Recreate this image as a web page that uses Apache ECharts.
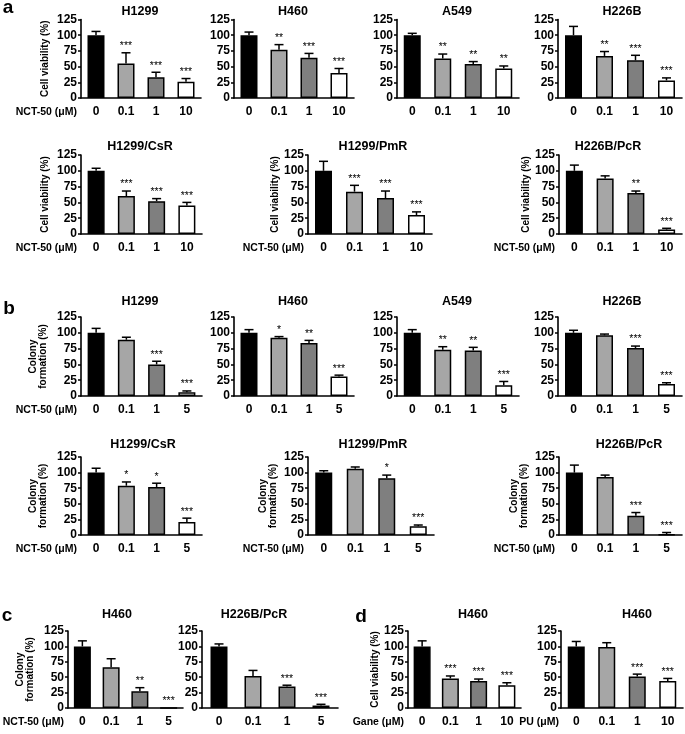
<!DOCTYPE html>
<html><head><meta charset="utf-8">
<script src="https://cdn.jsdelivr.net/npm/echarts@6/dist/echarts.min.js"></script>
<style>html,body{margin:0;padding:0;background:#fff}#c{width:685px;height:734px}</style>
</head><body><div id="c"></div>
<script>
// ---------- data ----------
const dosesV = ['0','0.1','1','10'];
const dosesC = ['0','0.1','1','5'];
const yTicks = [0, 25, 50, 75, 100, 125];

// Panel a (cell viability, %)
const aH1299 = [100,55,33,26];   const aH1299Err = [6,17,8,5];   const aH1299Sig = ['','***','***','***'];
const aH460  = [100,77,64,40];   const aH460Err  = [5,8,7,7];    const aH460Sig  = ['','**','***','***'];
const aA549  = [100,63,54,47];   const aA549Err  = [3,7,4,4];    const aA549Sig  = ['','**','**','**'];
const aH226B = [100,67,60,28];   const aH226BErr = [14,7,8,4];   const aH226BSig = ['','**','***','***'];
const aCsR   = [100,60,52,45];   const aCsRErr   = [4,8,4,5];    const aCsRSig   = ['','***','***','***'];
const aPmR   = [100,67,57,30];   const aPmRErr   = [15,10,11,5]; const aPmRSig   = ['','***','***','***'];
const aPcR   = [100,88,65,7];    const aPcRErr   = [9,4,3,2];    const aPcRSig   = ['','','**','***'];
// Panel b (colony formation, %)
const bH1299 = [100,89,50,6];    const bH1299Err = [7,4,5,2];    const bH1299Sig = ['','','***','***'];
const bH460  = [100,92,84,31];   const bH460Err  = [5,2,4,2];    const bH460Sig  = ['','*','**','***'];
const bA549  = [100,73,72,17];   const bA549Err  = [5,5,5,6];    const bA549Sig  = ['','**','**','***'];
const bH226B = [100,96,76,19];   const bH226BErr = [4,2,3,2];    const bH226BSig = ['','','***','***'];
const bCsR   = [100,79,77,21];   const bCsRErr   = [7,6,6,6];    const bCsRSig   = ['','*','*','***'];
const bPmR   = [100,106,91,14];  const bPmRErr   = [3,3,5,2];    const bPmRSig   = ['','','*','***'];
const bPcR   = [100,93,31,1];    const bPcRErr   = [12,3,5,3];   const bPcRSig   = ['','','***','***'];
// Panel c (colony formation, %)
const cH460  = [100,66,27,0];    const cH460Err  = [9,14,6,0];   const cH460Sig  = ['','','**','***'];
const cPcR   = [100,52,35,4];    const cPcRErr   = [4,9,2,2];    const cPcRSig   = ['','','***','***'];
// Panel d (cell viability, %)
const dGane  = [100,48,44,37];   const dGaneErr  = [9,4,3,4];    const dGaneSig  = ['','***','***','***'];
const dPU    = [100,99,51,44];   const dPUErr    = [8,7,4,4];    const dPUSig    = ['','','***','***'];

// ---------- layout / style ----------
const barColors = ['#000000','#a6a6a6','#7f7f7f','#ffffff'];
const FONT = '"Liberation Sans", Arial, Helvetica, sans-serif';
const CV = 'Cell viability (%)';
const CF = 'Colony\nformation (%)';
const NCT = 'NCT-50 (\u03bcM)';

// box = [axisLeft, axisRight, y(125), y(0)]
const charts = [
 {t:'H1299', cats:dosesV, v:aH1299, e:aH1299Err, s:aH1299Sig, box:[81,201,19.5,98], tx:140, ty:12, yn:CV, yg:31, xn:NCT},
 {t:'H460',  cats:dosesV, v:aH460,  e:aH460Err,  s:aH460Sig,  box:[234,354,19.5,98], tx:293, ty:12},
 {t:'A549',  cats:dosesV, v:aA549,  e:aA549Err,  s:aA549Sig,  box:[397,519,19.5,98], tx:457, ty:12},
 {t:'H226B', cats:dosesV, v:aH226B, e:aH226BErr, s:aH226BSig, box:[558,682,19.5,98], tx:622, ty:12},
 {t:'H1299/CsR', cats:dosesV, v:aCsR, e:aCsRErr, s:aCsRSig, box:[81,202,155,234], tx:140, ty:147, yn:CV, yg:31, xn:NCT},
 {t:'H1299/PmR', cats:dosesV, v:aPmR, e:aPmRErr, s:aPmRSig, box:[308,432,155,234], tx:373, ty:147, yn:CV, yg:28, xn:NCT},
 {t:'H226B/PcR', cats:dosesV, v:aPcR, e:aPcRErr, s:aPcRSig, box:[559,682,155,234], tx:608, ty:147, yn:CV, yg:28, xn:NCT},
 {t:'H1299', cats:dosesC, v:bH1299, e:bH1299Err, s:bH1299Sig, box:[81,202,317,396], tx:140, ty:302, yn:CF, yg:33, xn:NCT},
 {t:'H460',  cats:dosesC, v:bH460,  e:bH460Err,  s:bH460Sig,  box:[234,354,317,396], tx:293, ty:302},
 {t:'A549',  cats:dosesC, v:bA549,  e:bA549Err,  s:bA549Sig,  box:[397,519,317,396], tx:457, ty:302},
 {t:'H226B', cats:dosesC, v:bH226B, e:bH226BErr, s:bH226BSig, box:[558,682,317,396], tx:622, ty:302},
 {t:'H1299/CsR', cats:dosesC, v:bCsR, e:bCsRErr, s:bCsRSig, box:[81,202,457,535], tx:143, ty:445, yn:CF, yg:33, xn:NCT},
 {t:'H1299/PmR', cats:dosesC, v:bPmR, e:bPmRErr, s:bPmRSig, box:[308,434,457,535], tx:373, ty:445, yn:CF, yg:30, xn:NCT},
 {t:'H226B/PcR', cats:dosesC, v:bPcR, e:bPcRErr, s:bPcRSig, box:[559,682,457,535], tx:629, ty:445, yn:CF, yg:30, xn:NCT},
 {t:'H460',      cats:dosesC, v:cH460, e:cH460Err, s:cH460Sig, box:[68,183,631,708], tx:117, ty:615, yn:CF, yg:33, xn:NCT},
 {t:'H226B/PcR', cats:dosesC, v:cPcR,  e:cPcRErr,  s:cPcRSig,  box:[202,338,631,708], tx:254, ty:615},
 {t:'H460', cats:dosesV, v:dGane, e:dGaneErr, s:dGaneSig, box:[408,521,631,708], tx:473, ty:615, yn:CV, yg:28, xn:'Gane (\u03bcM)'},
 {t:'H460', cats:dosesV, v:dPU,   e:dPUErr,   s:dPUSig,   box:[561,683,631,708], tx:637, ty:615, xn:'PU (\u03bcM)', xg:2}
];
const letters = [['a',8,8],['b',9,309],['c',7,616],['d',361,617]];

const grids=[], xAxes=[], yAxes=[], series=[], graphics=[];
charts.forEach((c,i)=>{
  const [l,r,t,b] = c.box;
  grids.push({left:l, top:t, width:r-l, height:b-t, containLabel:false});
  xAxes.push({
    type:'category', gridIndex:i, data:c.cats,
    axisTick:{show:false},
    axisLine:{lineStyle:{color:'#000', width:1.6}},
    axisLabel:{color:'#000', fontWeight:'bold', fontSize:12, fontFamily:FONT, margin:8, interval:0},
    name:c.xn||'', nameLocation:'start', nameGap:(c.xg!=null?c.xg:4), nameMoveOverlap:false,
    nameTextStyle:{color:'#000', fontWeight:'bold', fontSize:10.5, fontFamily:FONT, align:'right', verticalAlign:'top', padding:[9,0,0,0]}
  });
  yAxes.push({
    type:'value', gridIndex:i, min:yTicks[0], max:yTicks[yTicks.length-1], interval:yTicks[1]-yTicks[0],
    splitLine:{show:false},
    axisLine:{show:true, lineStyle:{color:'#000', width:1.6}},
    axisTick:{show:true, length:3, lineStyle:{color:'#000', width:1.5}},
    axisLabel:{color:'#000', fontWeight:'bold', fontSize:12, fontFamily:FONT, margin:4},
    name:c.yn||'', nameLocation:'middle', nameRotate:90, nameGap:c.yg||30, nameMoveOverlap:false,
    nameTextStyle:{color:'#000', fontWeight:'bold', fontSize:10, fontFamily:FONT, lineHeight:10}
  });
  series.push({
    type:'bar', xAxisIndex:i, yAxisIndex:i, barWidth:17, animation:false,
    data:c.v.map((v,k)=>({value:v, itemStyle:{color:barColors[k], borderColor:'#000', borderWidth:1.5}}))
  });
  const sig = c.s;
  series.push({
    type:'custom', xAxisIndex:i, yAxisIndex:i, z:5, animation:false,
    encode:{x:0, y:1},
    data:c.v.map((v,k)=>[k, v, c.e[k]]),
    renderItem:(params, api)=>{
      const k = api.value(0), m = api.value(1), e = api.value(2);
      const p0 = api.coord([k, m]);
      const p1 = api.coord([k, m + e]);
      const ch = [];
      if (e > 0) {
        ch.push({type:'line', shape:{x1:p0[0], y1:p0[1], x2:p1[0], y2:p1[1]}, style:{stroke:'#000', lineWidth:1.5}});
        ch.push({type:'line', shape:{x1:p1[0]-4.5, y1:p1[1], x2:p1[0]+4.5, y2:p1[1]}, style:{stroke:'#000', lineWidth:1.5}});
      }
      const s = sig[params.dataIndex];
      if (s) ch.push({type:'text', x:p1[0], y:p1[1]-1, style:{text:s, fill:'#000', font:'10.5px '+FONT, align:'center', verticalAlign:'bottom', textAlign:'center', textVerticalAlign:'bottom'}});
      return {type:'group', children:ch};
    }
  });
  graphics.push({type:'text', x:c.tx, y:c.ty, style:{text:c.t, fill:'#000', font:'bold 12.5px '+FONT, align:'center', verticalAlign:'middle', textAlign:'center', textVerticalAlign:'middle'}});
});
letters.forEach(([t,x,y])=>{
  graphics.push({type:'text', x:x, y:y, style:{text:t, fill:'#000', font:'bold 19px '+FONT, align:'center', verticalAlign:'middle', textAlign:'center', textVerticalAlign:'middle'}});
});

const chart = echarts.init(document.getElementById('c'));
chart.setOption({
  animation:false,
  backgroundColor:'#fff',
  grid:grids, xAxis:xAxes, yAxis:yAxes, series:series, graphic:graphics
});
</script>
</body></html>
